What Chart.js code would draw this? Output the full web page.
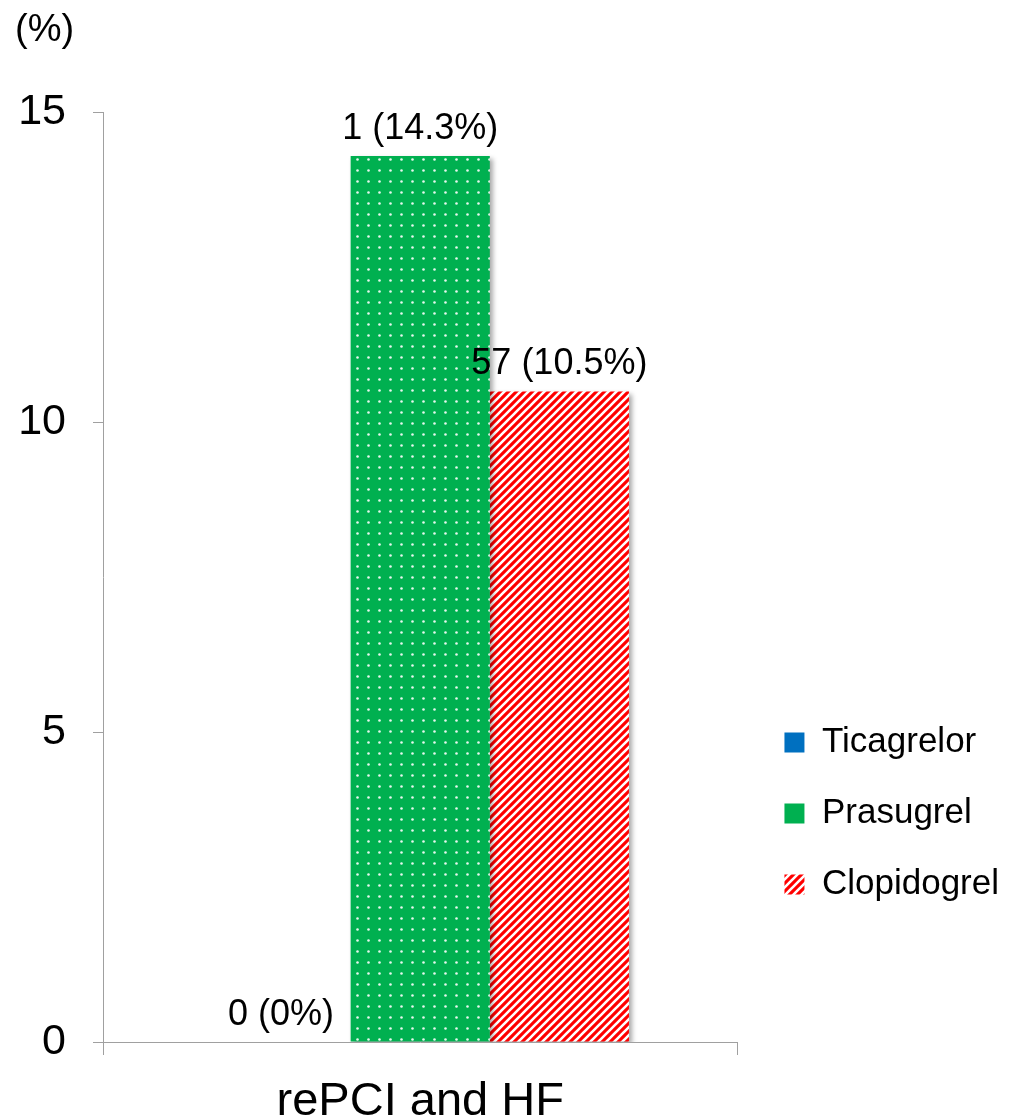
<!DOCTYPE html>
<html>
<head>
<meta charset="utf-8">
<script src="https://cdn.jsdelivr.net/npm/chart.js@4/dist/chart.umd.min.js"></script>
<style>
  html, body { margin: 0; padding: 0; background: #fff; }
  #wrap { width: 1009px; height: 1120px; position: relative; }
</style>
</head>
<body>
<div id="wrap"><canvas id="myChart"></canvas></div>
<script>
const categories = ["rePCI and HF"]
const drugs = ["Ticagrelor", "Prasugrel", "Clopidogrel"]
const counts = [0, 1, 57]
const percents = [0, 14.3, 10.5]
const yTicks = [0, 5, 10, 15]

const FONT = "'Liberation Sans', Arial, sans-serif"
const ctx = document.getElementById('myChart')

function dotPattern() {
    const c = document.createElement('canvas')
    c.width = 11
    c.height = 11
    const g = c.getContext('2d')
    g.fillStyle = '#00B050'
    g.fillRect(0, 0, 11, 11)
    g.fillStyle = 'rgba(255,255,255,0.9)'
    g.beginPath()
    g.arc(5.5, 5.5, 1.3, 0, Math.PI * 2)
    g.fill()
    return g.createPattern(c, 'repeat')
}

function stripePattern() {
    const c = document.createElement('canvas')
    c.width = 8
    c.height = 8
    const g = c.getContext('2d')
    g.fillStyle = '#FF0000'
    g.fillRect(0, 0, 8, 8)
    g.strokeStyle = '#ffffff'
    g.lineWidth = 2.6
    g.beginPath()
    g.moveTo(-2, 10); g.lineTo(10, -2)
    g.moveTo(-2, 2); g.lineTo(2, -2)
    g.moveTo(6, 10); g.lineTo(10, 6)
    g.stroke()
    return g.createPattern(c, 'repeat')
}

const stripes = stripePattern()
const fills = ['#0070C0', dotPattern(), stripes]
const legendFills = ['#0070C0', '#00B050', stripes]

const barShadow = {
    id: 'barShadow',
    beforeDatasetsDraw(chart) {
        const c = chart.ctx
        c.save()
        c.shadowColor = 'rgba(0,0,0,0.35)'
        c.shadowOffsetX = 3
        c.shadowOffsetY = 3
        c.shadowBlur = 5
    },
    afterDatasetsDraw(chart) {
        chart.ctx.restore()
    }
}

const valueLabels = {
    id: 'valueLabels',
    afterDatasetsDraw(chart) {
        const c = chart.ctx
        c.save()
        c.font = '36px ' + FONT
        c.fillStyle = '#000'
        c.textAlign = 'center'
        c.textBaseline = 'alphabetic'
        chart.data.datasets.forEach((ds, i) => {
            const meta = chart.getDatasetMeta(i)
            meta.data.forEach(bar => {
                c.fillText(`${counts[i]} (${percents[i]}%)`, bar.x, bar.y - 17)
            })
        })
        c.restore()
    }
}

new Chart(ctx, {
    type: 'bar',
    data: {
        labels: categories,
        datasets: drugs.map((name, i) => ({
            label: name,
            data: [percents[i]],
            backgroundColor: fills[i],
            borderWidth: 0,
            categoryPercentage: 0.658,
            barPercentage: 1.0
        }))
    },
    options: {
        responsive: true,
        maintainAspectRatio: false,
        animation: false,
        layout: { padding: { left: 15, right: 0, top: 0, bottom: 0 } },
        scales: {
            x: {
                afterFit: s => { s.height = 78 },
                grid: { drawOnChartArea: false, tickLength: 13, color: '#A0A0A0' },
                border: { color: '#A0A0A0' },
                ticks: { color: '#000', font: { size: 47, family: FONT }, padding: 19 }
            },
            y: {
                min: 0,
                max: 15,
                afterBuildTicks: s => { s.ticks = yTicks.map(v => ({ value: v })) },
                afterFit: s => { s.width = 88 },
                grid: { drawOnChartArea: false, tickLength: 10, color: '#A0A0A0' },
                border: { color: '#A0A0A0' },
                ticks: { color: '#000', font: { size: 43, family: FONT }, padding: 27 }
            },
            gap: {
                position: 'right',
                display: true,
                grid: { display: false },
                border: { display: false },
                ticks: { display: false },
                afterFit: s => { s.width = 11 }
            }
        },
        plugins: {
            title: {
                display: true,
                text: '(%)',
                align: 'start',
                color: '#000',
                font: { size: 38, family: FONT, weight: 'normal' },
                padding: { top: 8, bottom: 59 }
            },
            legend: {
                position: 'right',
                align: 'start',
                maxWidth: 320,
                title: { display: true, text: ' ', font: { size: 10 }, padding: { top: 677, bottom: 0 } },
                labels: {
                    color: '#000',
                    font: { size: 35, family: FONT },
                    boxWidth: 20,
                    boxHeight: 20,
                    padding: 36,
                    generateLabels: chart => drugs.map((name, i) => ({
                        text: name,
                        fillStyle: legendFills[i],
                        strokeStyle: 'transparent',
                        fontColor: '#000',
                        lineWidth: 0,
                        datasetIndex: i,
                        hidden: false
                    }))
                }
            },
            tooltip: { enabled: false }
        }
    },
    plugins: [barShadow, valueLabels]
})
</script>
</body>
</html>
